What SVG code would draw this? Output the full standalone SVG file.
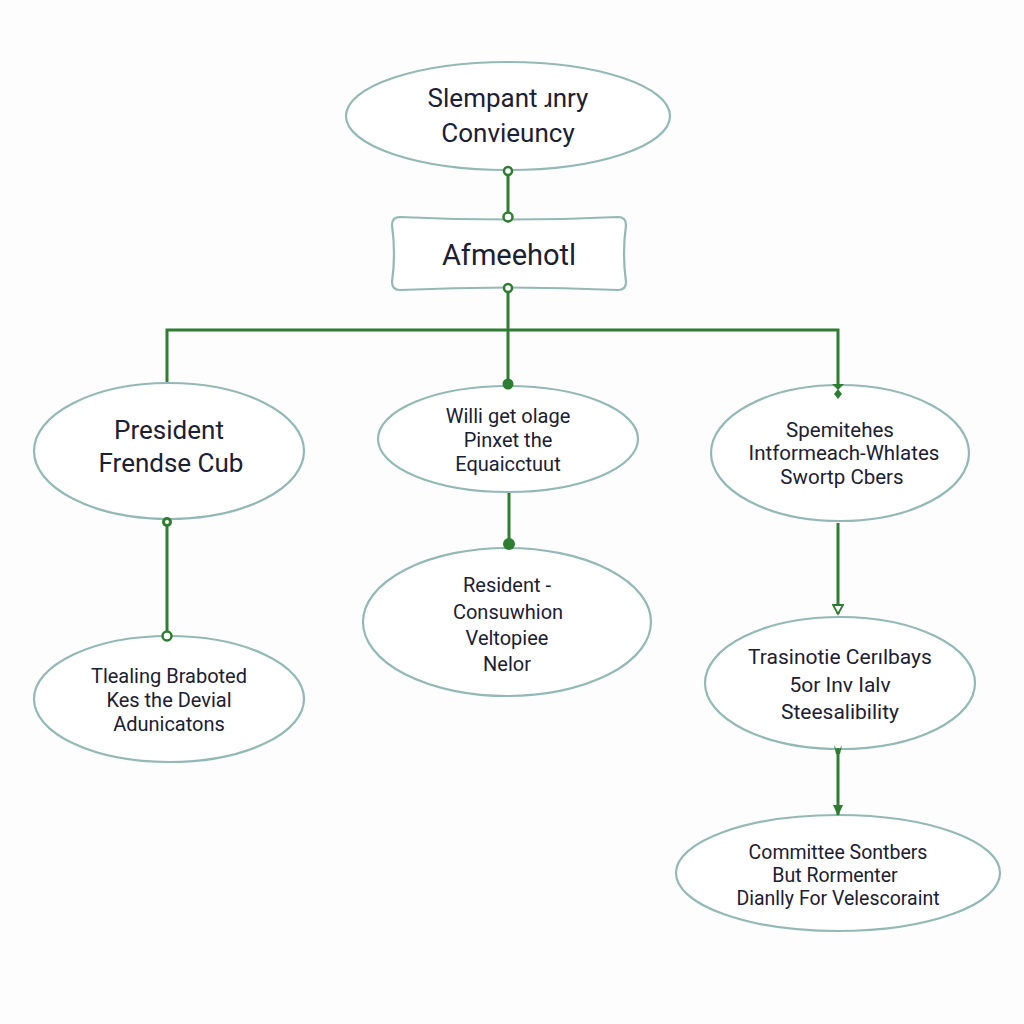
<svg xmlns="http://www.w3.org/2000/svg" width="1024" height="1024" viewBox="0 0 1024 1024">
<style>
.node{fill:#ffffff;stroke:#93b9b5;stroke-width:2.2}
.t{font-family:Roboto,"Liberation Sans",sans-serif;fill:#1b2033;text-anchor:middle}
.c{stroke:#2e7d32;stroke-width:3;fill:none}
.dot{fill:#2e7d32}
.ring{fill:#ffffff;stroke:#2e7d32;stroke-width:2.5}
</style>
<defs>
<marker id="arrFill" markerWidth="12" markerHeight="10" refX="10" refY="5" orient="auto" markerUnits="userSpaceOnUse">
<path d="M0,0 L11,5 L0,10 z" fill="#2e7d32"/>
</marker>
<marker id="arrOpen" markerWidth="12" markerHeight="12" refX="10" refY="6" orient="auto" markerUnits="userSpaceOnUse">
<path d="M1,1 L10,6 L1,11 z" fill="#ffffff" stroke="#2e7d32" stroke-width="1.8"/>
</marker>
</defs>
<rect width="1024" height="1024" fill="#fdfdfd"/>
<g id="n-top">
<ellipse class="node" cx="508" cy="116" rx="162" ry="54"/>
<text class="t" x="508" y="107" font-size="26">Slempant ɹnry</text>
<text class="t" x="508" y="142" font-size="26">Convieuncy</text>
</g>
<g id="n-rect">
<path class="node" d="M400,217 Q509,222 618,217 Q626,217 626,225 Q622,254 626,282 Q626,290 618,290 Q509,285 400,290 Q392,290 392,282 Q396,254 392,225 Q392,217 400,217 z"/>
<text class="t" x="509" y="265" font-size="29">Afmeehotl</text>
</g>
<g id="n-left1">
<ellipse class="node" cx="169" cy="451" rx="135" ry="68"/>
<text class="t" x="169" y="439" font-size="26">President</text>
<text class="t" x="171" y="472" font-size="26">Frendse Cub</text>
</g>
<g id="n-mid1">
<ellipse class="node" cx="508" cy="439" rx="130" ry="53"/>
<text class="t" x="508" y="423" font-size="20">Willi get olage</text>
<text class="t" x="508" y="447" font-size="20">Pinxet the</text>
<text class="t" x="508" y="471" font-size="20">Equaicctuut</text>
</g>
<g id="n-right1">
<ellipse class="node" cx="840" cy="453" rx="129" ry="68"/>
<text class="t" x="840" y="437" font-size="20.5">Spemitehes</text>
<text class="t" x="844" y="460" font-size="20.5">Intformeach-Whlates</text>
<text class="t" x="842" y="484" font-size="20.5">Swortp Cbers</text>
</g>
<g id="n-left2">
<ellipse class="node" cx="169" cy="699" rx="135" ry="63"/>
<text class="t" x="169" y="683" font-size="20">Tlealing Braboted</text>
<text class="t" x="169" y="707" font-size="20">Kes the Devial</text>
<text class="t" x="169" y="731" font-size="20">Adunicatons</text>
</g>
<g id="n-mid2">
<ellipse class="node" cx="507" cy="622" rx="144" ry="74"/>
<text class="t" x="507" y="592" font-size="20">Resident -</text>
<text class="t" x="508" y="619" font-size="20">Consuwhion</text>
<text class="t" x="507" y="645" font-size="20">Veltopiee</text>
<text class="t" x="507" y="671" font-size="20">Nelor</text>
</g>
<g id="n-right2">
<ellipse class="node" cx="840" cy="683" rx="135" ry="66"/>
<text class="t" x="840" y="664" font-size="21">Trasinotie Cerılbays</text>
<text class="t" x="840" y="692" font-size="21">5or Inv Ialv</text>
<text class="t" x="840" y="719" font-size="21">Steesalibility</text>
</g>
<g id="n-right3">
<ellipse class="node" cx="838" cy="873" rx="162" ry="58"/>
<text class="t" x="838" y="859" font-size="19.5">Committee Sontbers</text>
<text class="t" x="835" y="882" font-size="19.5">But Rormenter</text>
<text class="t" x="838" y="905" font-size="19.5">Dianlly For Velescoraint</text>
</g>
<g id="connectors">
<line class="c" x1="508" y1="171" x2="508" y2="217"/>
<line class="c" x1="508" y1="289" x2="508" y2="384"/>
<polyline class="c" points="167,382 167,330 838,330 838,388"/>
<line class="c" x1="167" y1="522" x2="167" y2="634"/>
<line class="c" x1="509" y1="493" x2="509" y2="543"/>
<line class="c" x1="838" y1="523" x2="838" y2="614" marker-end="url(#arrOpen)"/>
<line class="c" x1="838" y1="748" x2="838" y2="815" marker-end="url(#arrFill)"/>
<circle class="ring" cx="508" cy="171" r="4"/>
<circle class="ring" cx="508" cy="217" r="4.5"/>
<circle class="ring" cx="508" cy="288" r="4"/>
<circle class="dot" cx="508" cy="384" r="5.5"/>
<path class="dot" d="M832,384 L844,384 L838,390 z"/>
<path class="dot" d="M838,389 L842,394 L838,399 L834,394 z"/>
<circle class="dot" cx="167" cy="522" r="5"/>
<circle cx="167" cy="522" r="2" fill="#ffffff"/>
<circle class="ring" cx="167" cy="636" r="4.5"/>
<circle class="dot" cx="509" cy="544" r="6"/>
<path class="dot" d="M834,745 L838,752 L842,745 L840,754 L836,754 z"/>
</g>
</svg>
